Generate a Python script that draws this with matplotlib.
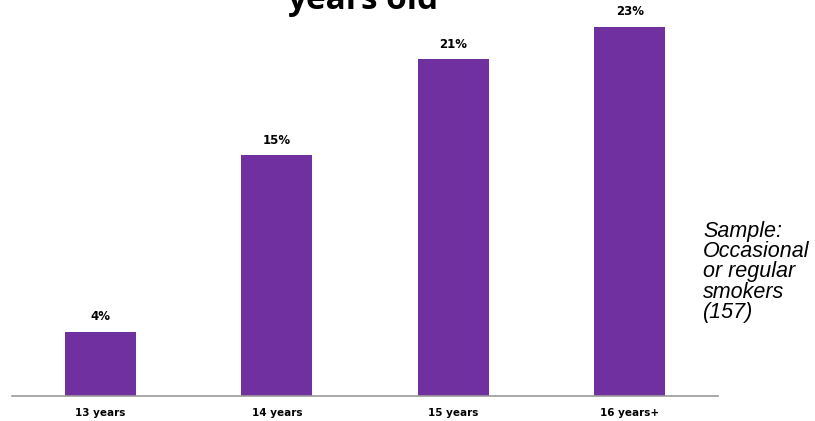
import matplotlib
matplotlib.use("Agg")
import matplotlib.pyplot as plt
import numpy as np

# share of smokers by age they started
categories = ['13 years', '14 years', '15 years', '16 years+']
values = [4, 15, 21, 23]
value_labels = ['4%', '15%', '21%', '23%']

bar_color = '#7030A0'

fig = plt.figure(figsize=(8.15, 4.21), dpi=100)
ax = fig.add_axes([12 / 815, 1 - 396 / 421, (718 - 12) / 815, 396 / 421])

x = np.arange(len(categories))
ax.bar(x, values, width=0.4, color=bar_color, zorder=2)

for xi, v, lab in zip(x, values, value_labels):
    ax.annotate(lab, (xi, v), xytext=(0, 6), textcoords='offset points',
                ha='center', va='bottom', fontsize=8.5, fontweight='bold',
                family='DejaVu Sans')

ax.set_xlim(-0.5, 3.5)
ax.set_ylim(0, 24.67)
ax.set_xticks(x)
ax.set_xticklabels(categories, fontsize=7.5, fontweight='bold', family='DejaVu Sans')
ax.tick_params(axis='x', length=0, pad=9)
ax.set_yticks([])
for side in ['top', 'right', 'left']:
    ax.spines[side].set_visible(False)
ax.spines['bottom'].set_color('#9a9a9a')
ax.spines['bottom'].set_linewidth(1.2)
ax.patch.set_alpha(0)

# title runs off the top edge, only the last line shows
fig.text(363 / 815, 1 - 9 / 421, 'years old', ha='center', va='baseline',
         fontsize=24, fontweight='bold', family='Open Sans')

fig.text(703 / 815, 1 - 221 / 421, 'Sample:\nOccasional\nor regular\nsmokers\n(157)',
         ha='left', va='top', fontsize=15.5, style='italic',
         family='Liberation Sans', linespacing=0.95)

fig.savefig('out.png', dpi=100)
